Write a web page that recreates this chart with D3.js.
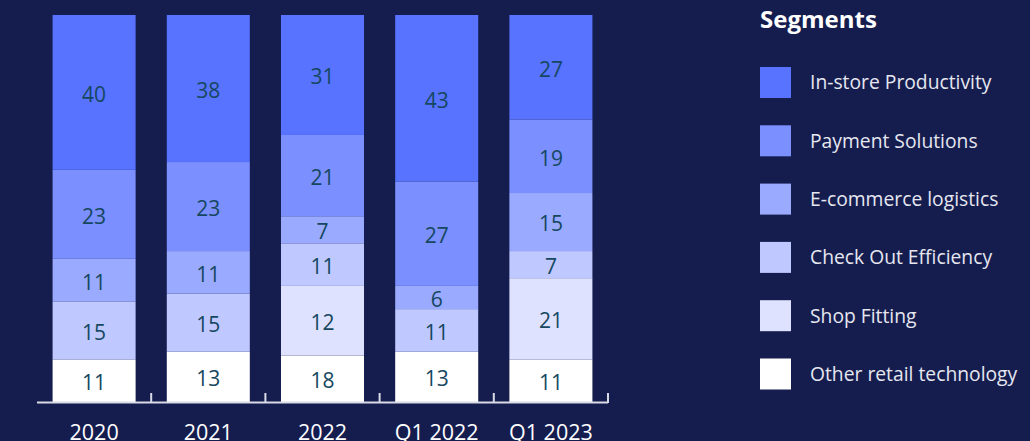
<!DOCTYPE html>
<html>
<head>
<meta charset="utf-8">
<script src="https://cdn.jsdelivr.net/npm/d3@7"></script>
<style>
  html, body { margin: 0; padding: 0; background: #151d4f; }
  svg { display: block; }
</style>
</head>
<body>
<div id="chart"></div>
<script>
// categories and segment series (percent shares as drawn)
const periods = ['2020', '2021', '2022', 'Q1 2022', 'Q1 2023'];
const segments = ['In-store Productivity', 'Payment Solutions', 'E-commerce logistics',
                  'Check Out Efficiency', 'Shop Fitting', 'Other retail technology'];
const inStore    = [40, 38, 31, 43, 27];
const payment    = [23, 23, 21, 27, 19];
const ecommerce  = [11, 11, 7, 6, 15];
const checkOut   = [15, 15, 11, 11, 7];
const shopFit    = [0, 0, 18, 0, 21];
const otherTech  = [11, 13, 12, 13, 11];
// the source prints these two 2022 labels swapped against the bar heights
const shopFitPrinted   = [0, 0, 12, 0, 21];
const otherTechPrinted = [11, 13, 18, 13, 11];
const segColors  = ['#5873ff', '#7b8fff', '#9aaaff', '#bfc8ff', '#dfe2ff', '#ffffff'];

const W = 1030, H = 441;

const svg = d3.select('#chart').append('svg')
    .attr('width', W).attr('height', H);

// build rows for stacking
const seriesVals = [inStore, payment, ecommerce, checkOut, shopFit, otherTech];
const printedVals = [inStore, payment, ecommerce, checkOut, shopFitPrinted, otherTechPrinted];
const rows = periods.map((p, i) => {
    const r = { period: p, idx: i };
    segments.forEach((s, j) => r[s] = seriesVals[j][i]);
    return r;
});

// stack from bottom: other first, in-store on top
const stackKeys = segments.slice().reverse();
const stacked = d3.stack().keys(stackKeys)(rows);

const x = d3.scaleBand()
    .domain(periods)
    .range([37, 608])
    .paddingInner(0.273)
    .paddingOuter(0.1365);

const y = d3.scaleLinear()
    .domain([0, 100])
    .range([402, 15]);

const color = d3.scaleOrdinal().domain(segments).range(segColors);

const layers = svg.append('g').selectAll('g')
    .data(stacked)
    .join('g')
    .attr('fill', d => color(d.key));

layers.selectAll('rect')
    .data(d => d.filter(v => v[1] - v[0] > 0))
    .join('rect')
    .attr('x', d => x(d.data.period))
    .attr('width', x.bandwidth())
    .attr('y', d => y(d[1]))
    .attr('height', d => y(d[0]) - y(d[1]));

layers.selectAll('text')
    .data(d => d.filter(v => v[1] - v[0] > 0).map(v => Object.assign(v, { key: d.key })))
    .join('text')
    .attr('x', d => x(d.data.period) + x.bandwidth() / 2)
    .attr('y', d => (y(d[0]) + y(d[1])) / 2)
    .attr('dy', '0.45em')
    .attr('text-anchor', 'middle')
    .attr('fill', '#154760')
    .attr('font-family', 'Open Sans, sans-serif')
    .attr('font-size', '21px')
    .text(d => printedVals[segments.indexOf(d.key)][d.data.idx]);

// x axis: baseline with short upward ticks at band boundaries
const axisG = svg.append('g');
axisG.append('line')
    .attr('x1', x.range()[0]).attr('x2', x.range()[1])
    .attr('y1', y(0) + 0.5).attr('y2', y(0) + 0.5)
    .attr('stroke', '#d9dbe6')
    .attr('stroke-width', 2);

axisG.selectAll('.tick-mark')
    .data(periods)
    .join('line')
    .attr('class', 'tick-mark')
    .attr('x1', d => x(d) - x.step() * x.paddingOuter() + x.step())
    .attr('x2', d => x(d) - x.step() * x.paddingOuter() + x.step())
    .attr('y1', y(0) - 9).attr('y2', y(0) + 1)
    .attr('stroke', '#d9dbe6')
    .attr('stroke-width', 2);

axisG.selectAll('.x-label')
    .data(periods)
    .join('text')
    .attr('class', 'x-label')
    .attr('x', d => x(d) + x.bandwidth() / 2)
    .attr('y', 440)
    .attr('text-anchor', 'middle')
    .attr('fill', '#ffffff')
    .attr('font-family', 'Open Sans, sans-serif')
    .attr('font-size', '21.5px')
    .text(d => d);

// legend
const legend = svg.append('g').attr('transform', 'translate(760,0)');
legend.append('text')
    .attr('x', 0).attr('y', 28)
    .attr('fill', '#ffffff')
    .attr('font-family', 'Open Sans, sans-serif')
    .attr('font-weight', 'bold')
    .attr('font-size', '24px')
    .text('Segments');

const item = legend.selectAll('.item')
    .data(segments)
    .join('g')
    .attr('class', 'item')
    .attr('transform', (d, i) => `translate(0,${67 + i * 58.3})`);

item.append('rect')
    .attr('width', 31).attr('height', 31)
    .attr('fill', d => color(d));

item.append('text')
    .attr('x', 50).attr('y', 15.5)
    .attr('dy', '0.36em')
    .attr('fill', '#e6e7f0')
    .attr('font-family', 'Open Sans, sans-serif')
    .attr('font-size', '19.3px')
    .text(d => d);
</script>
</body>
</html>
